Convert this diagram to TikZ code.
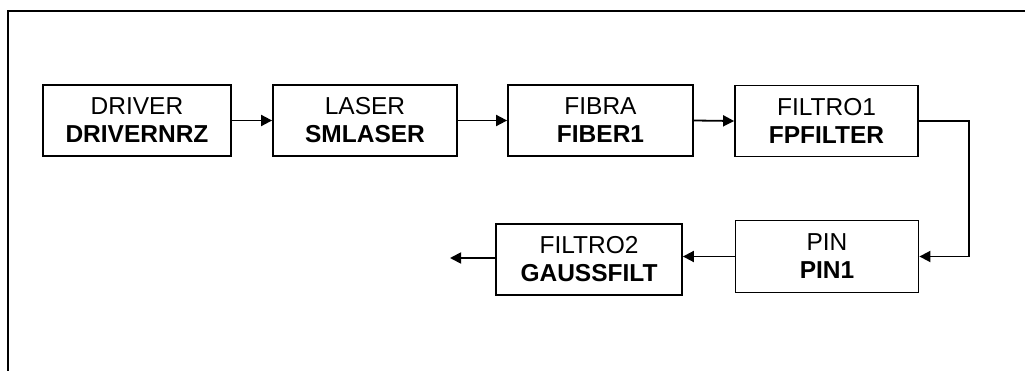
\documentclass[tikz,border=0pt]{standalone}
\usepackage{fontspec}
\setmainfont{Liberation Sans}
\usetikzlibrary{arrows.meta,calc}
\tikzset{
  blk/.style={draw, line width=1.8pt, rectangle, minimum height=71pt, inner sep=0pt,
    align=center, font=\fontsize{24.5}{28}\selectfont},
  conn/.style={line width=1.8pt, -{Triangle[length=11pt,width=11pt]}},
}
\begin{document}
\begin{tikzpicture}[x=1pt,y=-1pt]
\useasboundingbox (0,0) rectangle (1030,371);
\draw[line width=1.8pt] (8,371) -- (8,11) -- (1025,11);
\node[blk, minimum width=188pt] (drv) at (137,120.5) {DRIVER\\\textbf{DRIVERNRZ}};
\node[blk, minimum width=184pt] (las) at (365,120.5) {LASER\\\textbf{SMLASER}};
\node[blk, minimum width=185pt] (fib) at (600.5,120.5) {FIBRA\\\textbf{FIBER1}};
\node[blk, minimum width=183pt] (fl1) at (826.5,121) {FILTRO1\\\textbf{FPFILTER}};
\node[blk, minimum width=183pt, minimum height=72pt] (pin) at (827,256.5) {PIN\\\textbf{PIN1}};
\node[blk, minimum width=186pt] (fl2) at (589,259.5) {FILTRO2\\\textbf{GAUSSFILT}};
\coordinate (out) at (450,258);
\draw[conn] (drv.east) -- (las.west);
\draw[conn] (las.east) -- (fib.west);
\draw[conn] (fib.east) -- (fl1.west);
\draw[conn] (fl1.east) -- ++(50,0) |- (pin.east);
\draw[conn] (pin.west) -- (pin.west -| fl2.east);
\draw[conn] (fl2.west |- out) -- (out);
\end{tikzpicture}
\end{document}
